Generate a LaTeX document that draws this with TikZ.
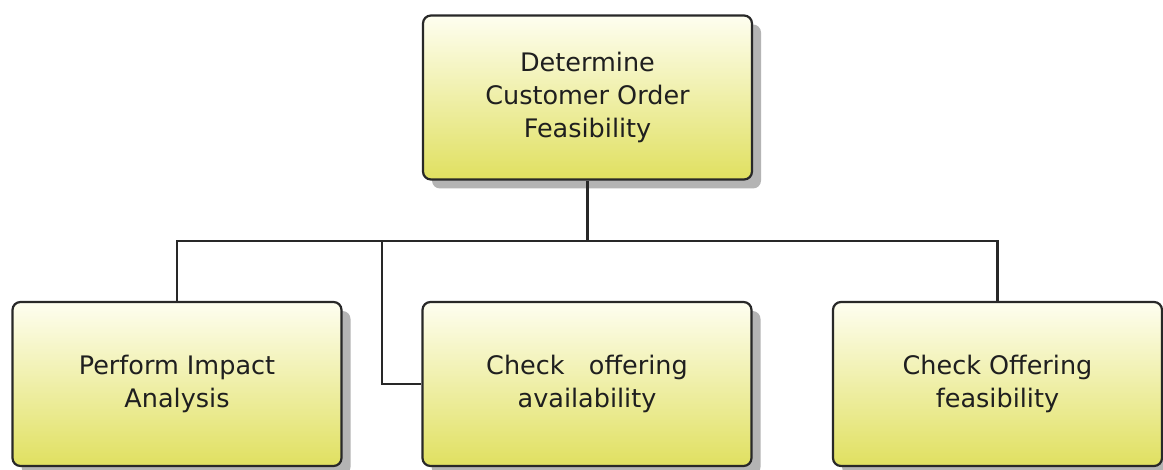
\documentclass[tikz,border=0pt]{standalone}
\usepackage{fontspec}
\newfontfamily\boxfont{DejaVu Sans}
\usetikzlibrary{shadows}
\definecolor{boxtop}{RGB}{254,254,240}
\definecolor{boxmid}{RGB}{247,247,196}
\definecolor{boxbot}{RGB}{224,224,96}
\definecolor{edgecol}{RGB}{40,40,40}
\definecolor{shadowcol}{RGB}{180,180,180}
\tikzset{
  actbox/.style={draw=edgecol, line width=2.2pt, rounded corners=8pt,
    top color=boxtop, middle color=boxmid, bottom color=boxbot,
    minimum width=329pt, minimum height=164pt, inner sep=0pt,
    align=center, text=black!88,
    font=\boxfont\fontsize{25.5pt}{33pt}\selectfont,
    drop shadow={shadow xshift=9pt, shadow yshift=-9pt, fill=shadowcol, opacity=1}},
  conn/.style={draw=edgecol, line width=2.4pt}
}
\begin{document}
\begin{tikzpicture}[x=1pt,y=1pt]
\useasboundingbox (0,0) rectangle (1163,-470);
\fill[white] (0,0) rectangle (1163,-470);
\node[actbox] (top) at (587.5,-97.5) {Determine\\Customer Order\\Feasibility};
\node[actbox] (L) at (177,-384) {Perform Impact\\Analysis};
\node[actbox] (M) at (587,-384) {Check\ \ \ offering\\availability};
\node[actbox] (R) at (997.5,-384) {Check Offering\\feasibility};
\coordinate (bus) at (top.south |- 0,-241);
\coordinate (mx) at (382,-241);
\draw[conn] (top.south) -- (bus);
\draw[conn] (bus) -| (L.north);
\draw[conn] (bus) -| (R.north);
\draw[conn] (mx) |- (M.west);
\end{tikzpicture}
\end{document}
